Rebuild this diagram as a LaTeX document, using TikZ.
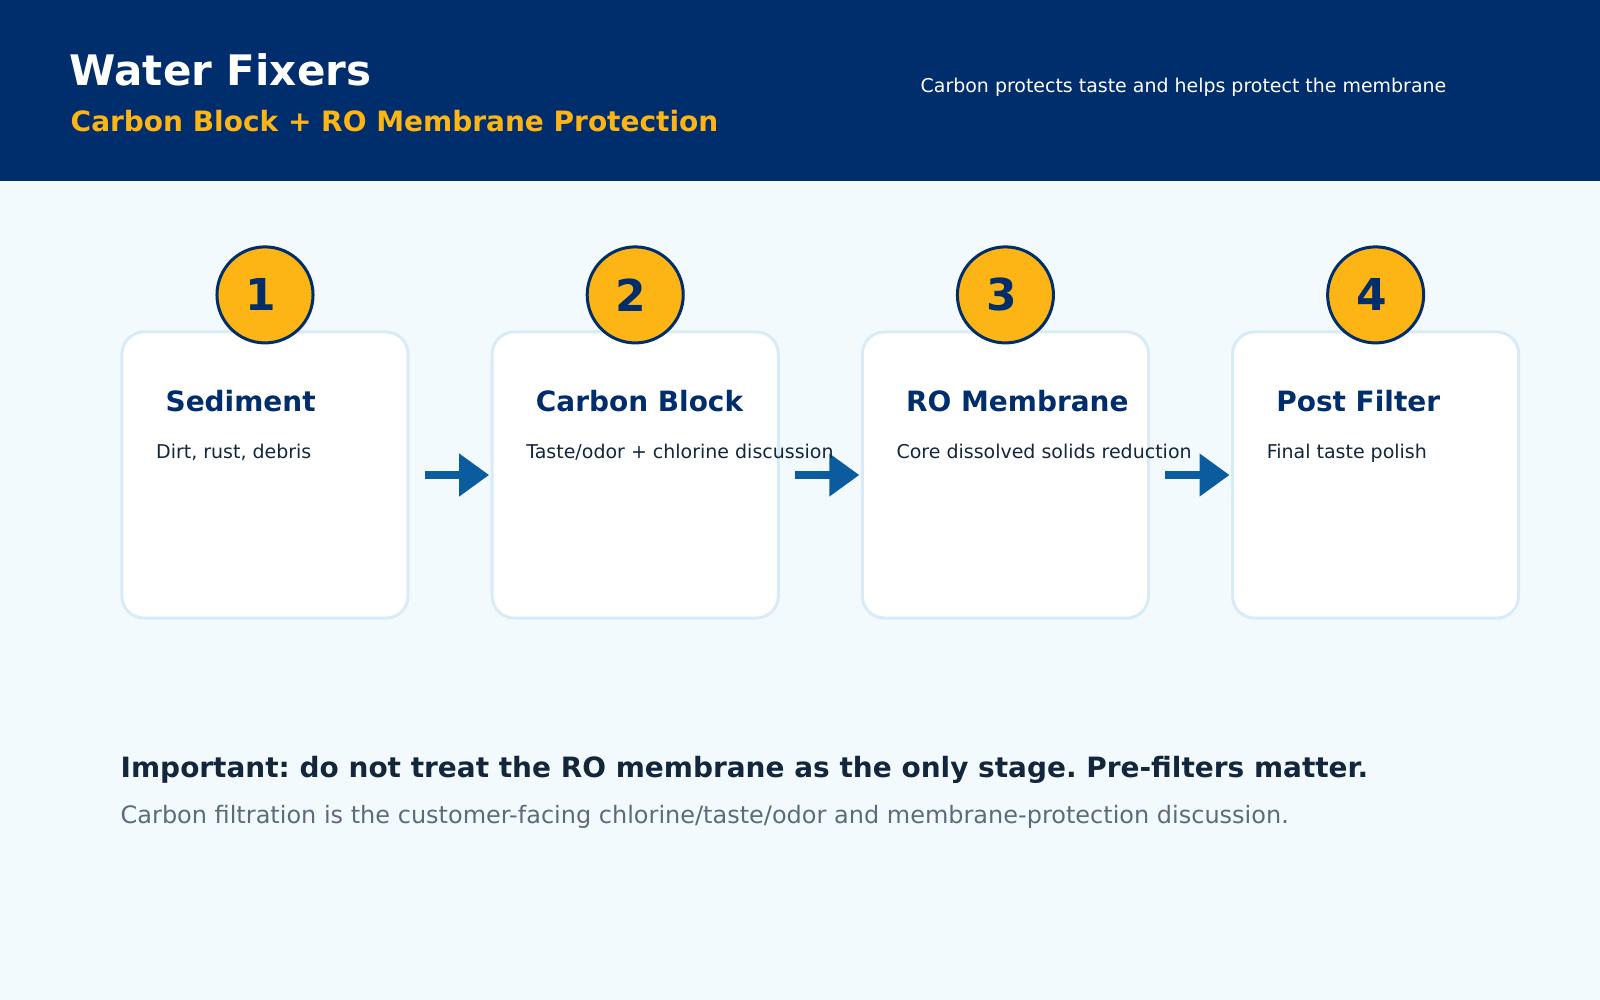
\documentclass[tikz,border=0pt]{standalone}
\usepackage{fontspec}
\setmainfont{DejaVu Sans}
\usepackage{xcolor}
\usetikzlibrary{arrows.meta,positioning}
\frenchspacing

\definecolor{hdrnavy}{HTML}{002D6B}
\definecolor{gold}{HTML}{FDB515}
\definecolor{pagebg}{HTML}{F2FAFE}
\definecolor{boxline}{HTML}{D8EBF7}
\definecolor{flowblue}{HTML}{0B5C9E}
\definecolor{inktext}{HTML}{13263B}
\definecolor{mutetext}{HTML}{5B6B7C}

\begin{document}
\begin{tikzpicture}[
x=0.01cm, y=-0.01cm,
node distance=0.84cm,
stagebox/.style={draw=boxline, line width=0.03cm, fill=white, rounded corners=0.22cm, minimum width=2.86cm, minimum height=2.86cm, outer sep=0pt},
stepnum/.style={circle, draw=hdrnavy, line width=0.03cm, fill=gold, minimum size=0.96cm, inner sep=0pt, text=hdrnavy, font=\bfseries\fontsize{12.5}{14}\selectfont, execute at begin node=\hspace*{-0.08cm}},
stagename/.style={anchor=base west, inner sep=0pt, text=hdrnavy, font=\bfseries\fontsize{7.95}{9}\selectfont},
stagenote/.style={anchor=base west, inner sep=0pt, text=inktext, font=\fontsize{5.4}{6.5}\selectfont},
flow/.style={-{Triangle[length=0.3cm, width=0.41cm]}, line width=0.08cm, draw=flowblue}
]
% page and header band
\fill[pagebg] (0,0) rectangle (1600,1000);
\useasboundingbox (0,0) rectangle (1600,1000);
\fill[hdrnavy] (0,0) rectangle (1600,181);
\node[anchor=base west, inner sep=0pt, text=white, font=\bfseries\fontsize{11.95}{14}\selectfont] (title) at (69,85) {Water Fixers};
\node[anchor=base west, inner sep=0pt, text=gold, font=\bfseries\fontsize{7.96}{9}\selectfont] (subtitle) at (70,131) {Carbon Block + RO Membrane Protection};
\node[anchor=base west, inner sep=0pt, text=white, font=\fontsize{5.39}{6.5}\selectfont] (hdrnote) at (920,92) {Carbon protects taste and helps protect the membrane};

% stages
\node[stagebox] (sed) at (265,475) {};
\node[stagebox, right=of sed] (carb) {};
\node[stagebox, right=of carb] (memb) {};
\node[stagebox, right=of memb] (post) {};

\draw[flow] ([xshift=0.165cm]sed.east) -- ([xshift=-0.03cm]carb.west);
\draw[flow] ([xshift=0.165cm]carb.east) -- ([xshift=-0.03cm]memb.west);
\draw[flow] ([xshift=0.165cm]memb.east) -- ([xshift=-0.03cm]post.west);

\node[stepnum] (n1) at ([yshift=0.37cm]sed.north) {1};
\node[stepnum] (n2) at ([yshift=0.37cm]carb.north) {2};
\node[stepnum] (n3) at ([yshift=0.37cm]memb.north) {3};
\node[stepnum] (n4) at ([yshift=0.37cm]post.north) {4};

\node[stagename] (sedname) at ([xshift=0.43cm, yshift=-0.795cm]sed.north west) {Sediment};
\node[stagename] (carbname) at ([xshift=0.43cm, yshift=-0.795cm]carb.north west) {Carbon Block};
\node[stagename] (membname) at ([xshift=0.43cm, yshift=-0.795cm]memb.north west) {RO Membrane};
\node[stagename] (postname) at ([xshift=0.43cm, yshift=-0.795cm]post.north west) {Post Filter};

\node[stagenote] (sednote) at ([xshift=0.335cm, yshift=-1.27cm]sed.north west) {Dirt, rust, debris};
\node[stagenote] (carbnote) at ([xshift=0.335cm, yshift=-1.27cm]carb.north west) {Taste/odor + chlorine discussion};
\node[stagenote] (membnote) at ([xshift=0.335cm, yshift=-1.27cm]memb.north west) {Core dissolved solids reduction};
\node[stagenote] (postnote) at ([xshift=0.335cm, yshift=-1.27cm]post.north west) {Final taste polish};

% takeaway
\node[anchor=base west, inner sep=0pt, text=inktext, font=\bfseries\fontsize{7.95}{9.5}\selectfont] (warn) at (120,777) {Important: do not treat the RO membrane as the only stage. Pre-filters matter.};
\node[anchor=base west, inner sep=0pt, text=mutetext, font=\fontsize{6.82}{8}\selectfont] (explain) at (120,823) {Carbon filtration is the customer-facing chlorine/taste/odor and membrane-protection discussion.};
\end{tikzpicture}
\end{document}
